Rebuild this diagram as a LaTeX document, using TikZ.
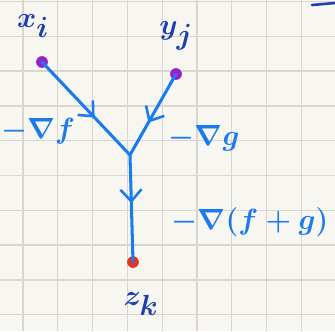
\documentclass[tikz,border=0pt]{standalone}
\usetikzlibrary{arrows.meta,decorations.markings}
\definecolor{paper}{HTML}{F8F6F1}
\definecolor{gridc}{HTML}{D9D5CF}
\definecolor{penblue}{HTML}{1A7AF0}
\definecolor{inkblue}{HTML}{1E3FB0}
\definecolor{dotpurple}{HTML}{9A1FC8}
\definecolor{dotred}{HTML}{E8321E}
\tikzset{
  flow/.style={penblue, line width=2.6pt, line cap=round, line join=round},
  midarrow/.style={postaction={decorate}, decoration={markings,
      mark=at position #1 with {\arrow[penblue, line width=2.2pt]{Straight Barb[length=10pt,width=18pt]}}}},
  dotnode/.style={circle, inner sep=0pt, minimum size=10pt, fill=#1},
  pointlabel/.style={inkblue, font=\fontsize{38}{38}\selectfont\boldmath},
  gradlabel/.style={penblue, font=\fontsize{29}{29}\selectfont\boldmath},
}
\begin{document}
\begin{tikzpicture}[x=0.03cm,y=-0.03cm]
  \fill[paper] (0,0) rectangle (335,331);
  \useasboundingbox (0,0) rectangle (335,331);
  \foreach \k in {0,...,9} {
    \draw[gridc, line width=1.1pt] ({23+34.8*\k},0) -- ({23+34.8*\k},331);
    \draw[gridc, line width=1.1pt] (0,{1.5+34.8*\k}) -- (335,{1.5+34.8*\k});
  }
  % points
  \node[dotnode=dotpurple] (xi) at (42,62) {};
  \node[dotnode=dotpurple] (yj) at (176,74) {};
  \coordinate (J) at (130,155);
  \node[dotnode=dotred] (zk) at (133,262) {};
  % connectors
  \draw[flow, midarrow=0.6] (xi.center) -- (J);
  \draw[flow, midarrow=0.6] (yj.center) -- (J);
  \draw[flow, midarrow=0.45] (J) -- (zk.center);
  % labels
  \node[pointlabel] (lxi) at (33,26) {$x_i$};
  \node[pointlabel] (lyj) at (176,36) {$y_j$};
  \node[pointlabel] (lzk) at (141,304) {$z_k$};
  \node[gradlabel] (lf) at (38,131) {$-\nabla f$};
  \node[gradlabel] (lg) at (204,138) {$-\nabla g$};
  \node[gradlabel] (lfg) at (250,222) {$-\nabla(f+g)$};
  % stray pen stroke at top right
  \draw[inkblue, line width=2.2pt, line cap=round] (312,5) -- (335,3);
\end{tikzpicture}
\end{document}
